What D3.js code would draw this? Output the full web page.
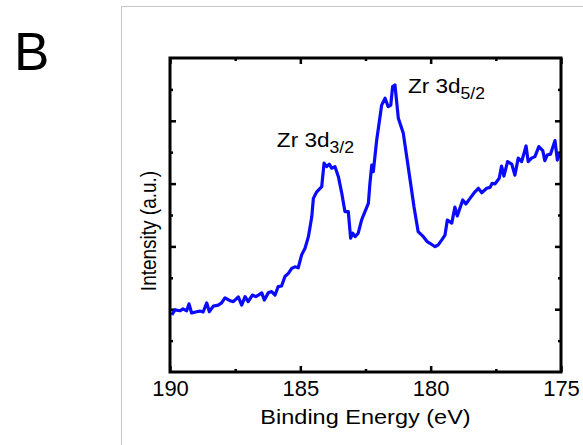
<!DOCTYPE html>
<html>
<head>
<meta charset="utf-8">
<script src="https://cdn.jsdelivr.net/npm/d3@7"></script>
<style>
  body { margin: 0; background: #fff; }
  text { font-family: "Liberation Sans", Arial, sans-serif; fill: #000; }
</style>
</head>
<body>
<svg id="chart" width="583" height="445"></svg>
<script>
// binding energy (eV) and intensity (a.u.)
const energy = [189.93, 189.81, 189.62, 189.50, 189.36, 189.27, 189.17, 188.98, 188.85, 188.73,
  188.59, 188.49, 188.34, 188.15, 188.02, 187.89, 187.70, 187.57, 187.38, 187.25,
  187.12, 187.00, 186.84, 186.71, 186.61, 186.48, 186.38, 186.23, 186.10, 185.97,
  185.85, 185.72, 185.59, 185.46, 185.33, 185.21, 185.08, 184.95, 184.82, 184.69,
  184.56, 184.50, 184.37, 184.18, 184.09, 183.99, 183.89, 183.80, 183.67, 183.54,
  183.41, 183.29, 183.16, 183.07, 182.99, 182.90, 182.78, 182.65, 182.52, 182.39,
  182.33, 182.26, 182.20, 182.07, 181.88, 181.75, 181.63, 181.53, 181.46, 181.37,
  181.24, 181.05, 180.92, 180.79, 180.64, 180.48, 180.28, 180.13, 180.03, 179.83,
  179.71, 179.58, 179.45, 179.36, 179.19, 179.07, 178.98, 178.77, 178.65, 178.49,
  178.30, 178.17, 178.04, 177.85, 177.72, 177.64, 177.53, 177.37, 177.28, 177.19,
  177.05, 176.89, 176.77, 176.64, 176.51, 176.34, 176.26, 176.13, 176.00, 175.85,
  175.70, 175.62, 175.53, 175.40, 175.23, 175.14, 175.04];
const intensity = [1.82, 1.98, 1.95, 2.01, 1.95, 2.17, 1.88, 1.92, 1.94, 1.91,
  2.20, 1.92, 2.10, 2.13, 2.20, 2.36, 2.27, 2.24, 2.39, 2.13,
  2.40, 2.24, 2.45, 2.40, 2.45, 2.52, 2.29, 2.52, 2.56, 2.45,
  2.72, 2.74, 3.04, 3.14, 3.30, 3.35, 3.32, 3.73, 3.94, 4.31,
  4.95, 5.53, 5.74, 5.90, 6.65, 6.54, 6.62, 6.49, 6.54, 6.22,
  5.69, 5.11, 5.11, 4.26, 4.42, 4.31, 4.42, 4.84, 5.11, 5.37,
  6.01, 6.59, 6.38, 7.39, 8.50, 8.72, 8.45, 8.50, 9.09, 9.14,
  8.08, 7.60, 6.86, 6.12, 5.26, 4.47, 4.31, 4.15, 4.10, 3.99,
  4.05, 4.20, 4.36, 4.84, 4.74, 5.25, 4.97, 5.48, 5.35, 5.53,
  5.74, 5.85, 5.71, 5.85, 5.88, 6.01, 5.99, 6.17, 6.56, 6.24,
  6.70, 6.62, 6.27, 6.81, 6.70, 7.20, 6.70, 6.81, 6.86, 7.18,
  7.05, 6.73, 6.91, 6.94, 7.37, 6.75, 6.97];

const xMajor = [190, 185, 180, 175];
const xMinor = [187.5, 182.5, 177.5];
const yMajor = [2, 4, 6, 8];
const yMinor = [1, 3, 5, 7, 9];

const peakLabels = [
  {name: "Zr 3d", sub: "3/2", e: 185.9, v: 7.17},
  {name: "Zr 3d", sub: "5/2", e: 180.87, v: 8.89}
];

const svg = d3.select("#chart");

// plot box
const box = {left: 170, right: 561, top: 58, bottom: 372};

const x = d3.scaleLinear().domain([190, 175]).range([box.left, box.right]);
const y = d3.scaleLinear().domain([0, 10]).range([box.bottom, box.top]);

// light grey panel frame
svg.append("path")
  .attr("d", "M121.5,445V6.5H583")
  .attr("fill", "none")
  .attr("stroke", "#c4c4c4")
  .attr("stroke-width", 1);

// panel letter
svg.append("text")
  .attr("x", 14).attr("y", 70)
  .style("font-size", "53px")
  .text("B");

// axes, ticks pointing in
function drawAxis(axis, tx, ty) {
  const g = svg.append("g")
    .attr("transform", `translate(${tx},${ty})`)
    .call(axis);
  g.select(".domain").remove();
  g.selectAll(".tick line").attr("stroke", "#000").attr("stroke-width", 2.5);
  return g;
}

const bottomAxis = drawAxis(d3.axisBottom(x).tickValues(xMajor).tickSize(-6)
  .tickFormat(d3.format("d")).tickPadding(0), 0, box.bottom);
bottomAxis.selectAll(".tick text")
  .attr("y", 24).attr("dy", 0)
  .style("font-size", "22px");

drawAxis(d3.axisBottom(x).tickValues(xMinor).tickSize(-3).tickFormat(""), 0, box.bottom);
drawAxis(d3.axisTop(x).tickValues(xMajor).tickSize(-6).tickFormat(""), 0, box.top);
drawAxis(d3.axisTop(x).tickValues(xMinor).tickSize(-3).tickFormat(""), 0, box.top);
drawAxis(d3.axisLeft(y).tickValues(yMajor).tickSize(-6).tickFormat(""), box.left, 0);
drawAxis(d3.axisLeft(y).tickValues(yMinor).tickSize(-3).tickFormat(""), box.left, 0);
drawAxis(d3.axisRight(y).tickValues(yMajor).tickSize(-6).tickFormat(""), box.right, 0);
drawAxis(d3.axisRight(y).tickValues(yMinor).tickSize(-3).tickFormat(""), box.right, 0);

// spectrum
const pts = energy.map((e, i) => [e, intensity[i]]);
const line = d3.line().x(d => x(d[0])).y(d => y(d[1]));

svg.append("path")
  .datum(pts)
  .attr("d", line)
  .attr("fill", "none")
  .attr("stroke", "#0a0aff")
  .attr("stroke-width", 3.2)
  .attr("stroke-linejoin", "round");

// frame of plot
svg.append("rect")
  .attr("x", box.left).attr("y", box.top)
  .attr("width", box.right - box.left).attr("height", box.bottom - box.top)
  .attr("fill", "none")
  .attr("stroke", "#000")
  .attr("stroke-width", 3);

// peak labels
peakLabels.forEach(p => {
  const t = svg.append("text")
    .attr("transform", `translate(${x(p.e)},${y(p.v)}) scale(1.1,1)`)
    .style("font-size", "20.5px");
  t.append("tspan").text(p.name);
  t.append("tspan").attr("dy", 6).style("font-size", "16px").text(p.sub);
});

// axis titles
svg.append("text")
  .attr("transform", `translate(${(box.left + box.right) / 2},424) scale(1.2,1)`)
  .attr("text-anchor", "middle")
  .style("font-size", "19.6px")
  .text("Binding Energy (eV)");

svg.append("text")
  .attr("transform", `translate(156,231) scale(1.2,1) rotate(-90)`)
  .attr("text-anchor", "middle")
  .style("font-size", "19px")
  .text("Intensity (a.u.)");
</script>
</body>
</html>
